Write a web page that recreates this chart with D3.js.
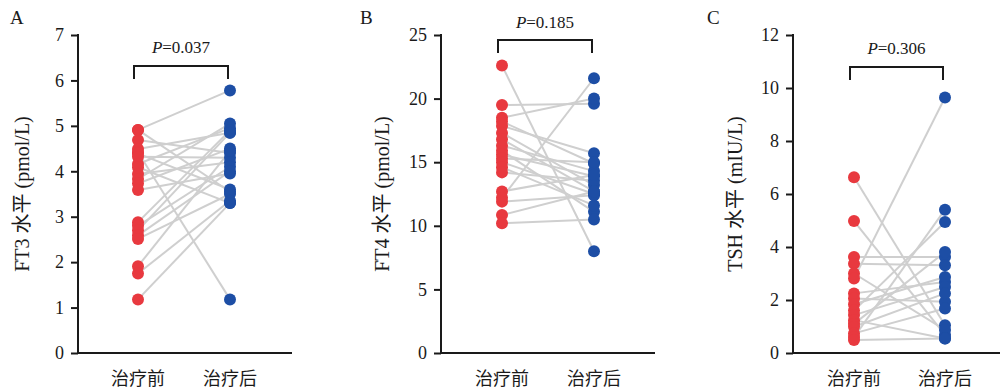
<!DOCTYPE html>
<html>
<head>
<meta charset="utf-8">
<script src="https://cdn.jsdelivr.net/npm/d3@7"></script>
<style>
  body { margin: 0; background: #fff; }
  text { font-family: "Liberation Serif", "Noto Sans CJK SC", serif; fill: #1a1a1a; }
</style>
</head>
<body>
<svg id="chart" width="1000" height="392"></svg>
<script>
var categories = ["治疗前", "治疗后"];

var ft3Pre  = [4.91, 4.91, 4.69, 4.49, 4.42, 4.39, 4.32, 4.16, 4.09, 3.94, 3.83, 3.73, 3.59, 2.88, 2.80, 2.70, 2.59, 2.51, 1.91, 1.75, 1.18];
var ft3Post = [5.78, 3.55, 4.40, 4.85, 1.18, 3.60, 4.30, 4.95, 3.30, 4.20, 5.05, 4.50, 3.95, 4.90, 4.10, 4.85, 4.00, 3.50, 4.45, 3.35, 3.30];

var ft4Pre  = [22.6, 19.5, 18.5, 18.2, 17.85, 17.3, 16.8, 16.3, 15.9, 15.6, 15.3, 15.0, 14.6, 14.2, 12.7, 12.2, 11.9, 10.85, 10.2];
var ft4Post = [8.0, 19.6, 20.0, 14.9, 15.7, 13.2, 12.7, 14.3, 11.1, 13.9, 15.0, 12.5, 11.6, 13.55, 14.0, 21.6, 12.4, 12.7, 10.5];

var tshPre  = [6.63, 4.98, 3.62, 3.37, 3.00, 2.81, 2.25, 2.06, 1.84, 1.60, 1.43, 1.24, 1.10, 0.99, 0.74, 0.60, 0.49];
var tshPost = [1.05, 0.68, 3.62, 3.31, 0.87, 9.64, 2.68, 1.93, 2.87, 4.94, 2.49, 0.55, 3.81, 2.25, 1.68, 5.41, 0.55];

var panels = [
  { tag: "A", label: "FT3 水平 (pmol/L)", pText: "=0.037", pre: ft3Pre, post: ft3Post,
    max: 7, step: 1, axisX: 78, x0: 138, x1: 230, xEnd: 292, labelX: 22, tagX: 10,
    bracketY: 66, pY: 53 },
  { tag: "B", label: "FT4 水平 (pmol/L)", pText: "=0.185", pre: ft4Pre, post: ft4Post,
    max: 25, step: 5, axisX: 441, x0: 502, x1: 594, xEnd: 655, labelX: 382, tagX: 360,
    bracketY: 40, pY: 28 },
  { tag: "C", label: "TSH 水平 (mIU/L)", pText: "=0.306", pre: tshPre, post: tshPost,
    max: 12, step: 2, axisX: 793, x0: 854, x1: 945, xEnd: 1000, labelX: 735, tagX: 707,
    bracketY: 67, pY: 54 }
];

var yTop = 35, yBottom = 353;
var svg = d3.select("#chart");

panels.forEach(function(p) {
  var g = svg.append("g");

  var y = d3.scaleLinear().domain([0, p.max]).range([yBottom, yTop]);
  var x = d3.scalePoint().domain(categories).range([p.x0, p.x1]);

  var pairs = p.pre.map(function(v, i) { return { pre: v, post: p.post[i] }; });

  // connecting lines
  g.selectAll("line.pair")
    .data(pairs)
    .enter().append("line")
    .attr("class", "pair")
    .attr("x1", x(categories[0]))
    .attr("x2", x(categories[1]))
    .attr("y1", function(d) { return y(d.pre); })
    .attr("y2", function(d) { return y(d.post); })
    .style("stroke", "#cfcfcf")
    .style("stroke-width", 2);

  g.selectAll("circle.pre")
    .data(p.pre)
    .enter().append("circle")
    .attr("class", "pre")
    .attr("cx", x(categories[0]))
    .attr("cy", function(d) { return y(d); })
    .attr("r", 6)
    .style("fill", "#e8393f");

  g.selectAll("circle.post")
    .data(p.post)
    .enter().append("circle")
    .attr("class", "post")
    .attr("cx", x(categories[1]))
    .attr("cy", function(d) { return y(d); })
    .attr("r", 6)
    .style("fill", "#1d4ea5");

  // y axis
  var yAxis = d3.axisLeft(y)
    .tickValues(d3.range(0, p.max + 0.001, p.step))
    .tickFormat(d3.format("d"))
    .tickSize(7)
    .tickPadding(7)
    .tickSizeOuter(0);

  var ag = g.append("g")
    .attr("transform", "translate(" + p.axisX + ",0)")
    .call(yAxis);
  ag.select(".domain").remove();
  ag.selectAll(".tick line").style("stroke", "#1a1a1a").style("stroke-width", 2);
  ag.selectAll(".tick text")
    .style("font-family", "'Liberation Serif', serif")
    .style("font-size", "18px")
    .style("fill", "#1a1a1a");

  g.append("path")
    .attr("d", "M" + p.axisX + "," + (yTop - 1) + "V" + yBottom + "H" + p.xEnd)
    .style("fill", "none")
    .style("stroke", "#1a1a1a")
    .style("stroke-width", 2);

  // category labels
  g.selectAll("text.cat")
    .data(categories)
    .enter().append("text")
    .attr("class", "cat")
    .attr("x", function(d) { return x(d); })
    .attr("y", 385)
    .attr("text-anchor", "middle")
    .style("font-family", "'Noto Sans CJK SC', sans-serif")
    .style("font-size", "18px")
    .text(function(d) { return d; });

  // y label
  g.append("text")
    .attr("transform", "translate(" + p.labelX + "," + ((yTop + yBottom) / 2) + ") rotate(-90)")
    .attr("text-anchor", "middle")
    .attr("dy", "0.35em")
    .style("font-size", "20px")
    .text(p.label);

  // significance bracket
  var bx0 = x(categories[0]) - 4, bx1 = x(categories[1]) - 2;
  g.append("path")
    .attr("d", "M" + bx0 + "," + (p.bracketY + 13) + "V" + p.bracketY + "H" + bx1 + "V" + (p.bracketY + 13))
    .style("fill", "none")
    .style("stroke", "#1a1a1a")
    .style("stroke-width", 2);

  var pt = g.append("text")
    .attr("x", (bx0 + bx1) / 2)
    .attr("y", p.pY)
    .attr("text-anchor", "middle")
    .style("font-size", "17px");
  pt.append("tspan").style("font-style", "italic").text("P");
  pt.append("tspan").text(p.pText);

  // panel tag
  g.append("text")
    .attr("x", p.tagX)
    .attr("y", 24)
    .style("font-size", "19px")
    .text(p.tag);
});
</script>
</body>
</html>
